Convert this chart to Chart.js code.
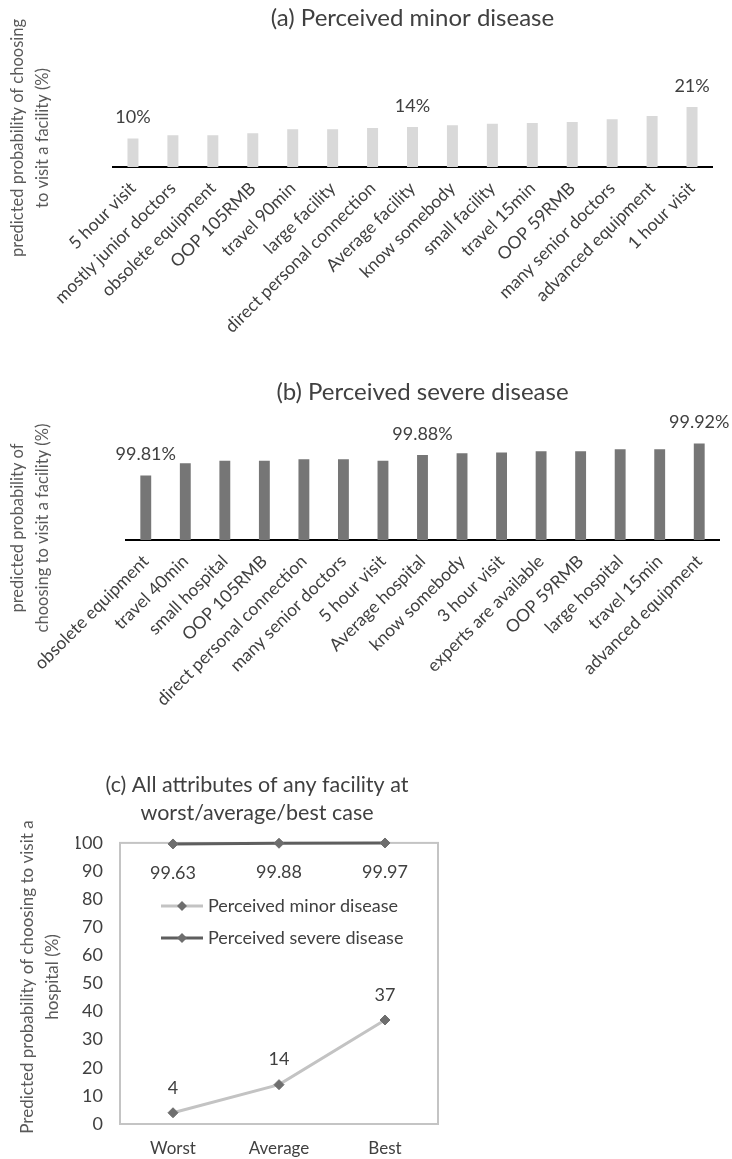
<!DOCTYPE html>
<html>
<head>
<meta charset="utf-8">
<script src="https://cdn.jsdelivr.net/npm/chart.js@4.4.1/dist/chart.umd.min.js"></script>
<style>
  html, body { margin: 0; padding: 0; background: #ffffff; }
  #page { position: relative; width: 732px; height: 1159px; overflow: hidden; }
  canvas { position: absolute; }
</style>
</head>
<body>
<div id="page">
  <canvas id="minorChart" width="732" height="340" style="left:0;top:0"></canvas>
  <canvas id="severeChart" width="732" height="340" style="left:0;top:370px"></canvas>
  <canvas id="scenarioChart" width="470" height="399" style="left:0;top:760px"></canvas>
</div>
<script>
// (a) attribute levels, perceived minor disease (%)
const minorAttributes = [
  '5 hour visit', 'mostly junior doctors', 'obsolete equipment', 'OOP 105RMB',
  'travel 90min', 'large facility', 'direct personal connection', 'Average facility',
  'know somebody', 'small facility', 'travel 15min', 'OOP 59RMB',
  'many senior doctors', 'advanced equipment', '1 hour visit'
];
const minorProbability = [10, 11.1, 11.1, 11.8, 13.2, 13.2, 13.6, 14, 14.6, 15.1, 15.4, 15.7, 16.7, 17.8, 21];
const minorLabelled = [0, 7, 14];

// (b) attribute levels, perceived severe disease (%)
const severeAttributes = [
  'obsolete equipment', 'travel 40min', 'small hospital', 'OOP 105RMB',
  'direct personal connection', 'many senior doctors', '5 hour visit', 'Average hospital',
  'know somebody', '3 hour visit', 'experts are available', 'OOP 59RMB',
  'large hospital', 'travel 15min', 'advanced equipment'
];
const severeProbability = [99.81, 99.852, 99.861, 99.861, 99.866, 99.866, 99.861, 99.88, 99.886, 99.889, 99.893, 99.893, 99.9, 99.9, 99.92];
const severeLabelled = [0, 7, 14];

// (c) all attributes at worst / average / best case (%)
const scenarioCases = ['Worst', 'Average', 'Best'];
const scenarioMinor = [4, 14, 37];
const scenarioSevere = [99.63, 99.88, 99.97];
const scenarioTicks = [0, 10, 20, 30, 40, 50, 60, 70, 80, 90, 100];

const FONT = 'Lato, "Open Sans", "Noto Sans", sans-serif';
const TEXT = '#404040';

// Rotated, multi-line axis caption placed beside the plot
const sideTitle = {
  id: 'sideTitle',
  afterDraw(chart, args, opts) {
    if (!opts.lines) return;
    const ctx = chart.ctx;
    ctx.save();
    ctx.font = `${opts.size}px ${FONT}`;
    ctx.fillStyle = opts.color;
    ctx.textAlign = 'center';
    ctx.textBaseline = 'middle';
    opts.lines.forEach(line => {
      ctx.save();
      ctx.translate(line.x, opts.centerY);
      ctx.rotate(-Math.PI / 2);
      ctx.fillText(line.text, 0, 0);
      ctx.restore();
    });
    ctx.restore();
  }
};

// Value captions next to chosen data points
const valueLabels = {
  id: 'valueLabels',
  afterDatasetsDraw(chart, args, opts) {
    if (!opts.items) return;
    const ctx = chart.ctx;
    ctx.save();
    ctx.font = `${opts.size}px ${FONT}`;
    ctx.fillStyle = opts.color;
    ctx.textAlign = 'center';
    ctx.textBaseline = 'middle';
    opts.items.forEach(item => {
      const meta = chart.getDatasetMeta(item.dataset);
      const values = chart.data.datasets[item.dataset].data;
      const idx = item.indices || values.map((v, i) => i);
      idx.forEach(i => {
        const el = meta.data[i];
        const text = values[i].toFixed(item.digits) + (item.suffix || '');
        ctx.fillText(text, el.x, el.y + item.dy);
      });
    });
    ctx.restore();
  }
};

// Light border round the plot area
const plotFrame = {
  id: 'plotFrame',
  beforeDatasetsDraw(chart, args, opts) {
    const { left, top, width, height } = chart.chartArea;
    const ctx = chart.ctx;
    ctx.save();
    ctx.strokeStyle = opts.color;
    ctx.lineWidth = opts.width;
    ctx.strokeRect(left, top, width, height);
    ctx.restore();
  }
};

// Legend drawn inside the plot area: line sample with a diamond marker
const insetLegend = {
  id: 'insetLegend',
  afterDraw(chart, args, opts) {
    const ctx = chart.ctx;
    ctx.save();
    ctx.font = `${opts.size}px ${FONT}`;
    ctx.textAlign = 'left';
    ctx.textBaseline = 'middle';
    chart.data.datasets.forEach((ds, i) => {
      const y = opts.y + i * opts.gap;
      ctx.strokeStyle = ds.borderColor;
      ctx.lineWidth = ds.borderWidth;
      ctx.beginPath();
      ctx.moveTo(opts.x, y);
      ctx.lineTo(opts.x + opts.lineLength, y);
      ctx.stroke();
      const cx = opts.x + opts.lineLength / 2;
      const r = ds.pointRadius;
      ctx.fillStyle = ds.pointBackgroundColor;
      ctx.beginPath();
      ctx.moveTo(cx, y - r);
      ctx.lineTo(cx + r, y);
      ctx.lineTo(cx, y + r);
      ctx.lineTo(cx - r, y);
      ctx.closePath();
      ctx.fill();
      ctx.fillStyle = opts.color;
      ctx.fillText(ds.label, opts.x + opts.lineLength + 5, y);
    });
    ctx.restore();
  }
};

const tickFont = { family: FONT, size: 17.5 };

function barPanel(canvasId, cfg) {
  return new Chart(document.getElementById(canvasId), {
    type: 'bar',
    data: {
      labels: cfg.labels,
      datasets: [{
        label: cfg.name,
        data: cfg.values,
        backgroundColor: cfg.color,
        categoryPercentage: 1,
        barPercentage: 0.275
      }]
    },
    options: {
      responsive: false,
      animation: false,
      devicePixelRatio: 1,
      layout: { padding: cfg.padding },
      plugins: {
        legend: { display: false },
        tooltip: { enabled: false },
        title: {
          display: true,
          text: cfg.title,
          color: TEXT,
          font: { family: FONT, size: 24, weight: 'normal', lineHeight: 1.2 },
          padding: cfg.titlePadding
        },
        sideTitle: { lines: cfg.sideLines, centerY: cfg.sideCenter, size: 16.5, color: '#595959' },
        valueLabels: {
          size: 18, color: TEXT,
          items: [{ dataset: 0, indices: cfg.labelled, digits: cfg.digits, suffix: '%', dy: -21 }]
        }
      },
      scales: {
        x: {
          grid: { display: false, drawTicks: false },
          border: { display: true, color: '#000000', width: 2 },
          ticks: { autoSkip: false, minRotation: 45, maxRotation: 45, color: TEXT, font: tickFont, padding: 11 },
          afterFit: s => { s.height = cfg.xHeight; }
        },
        y: { display: false, min: cfg.min, max: cfg.max }
      }
    },
    plugins: [sideTitle, valueLabels]
  });
}

barPanel('minorChart', {
  name: 'Perceived minor disease',
  title: '(a) Perceived minor disease',
  labels: minorAttributes,
  values: minorProbability,
  labelled: minorLabelled,
  digits: 0,
  color: '#d9d9d9',
  padding: { left: 113, right: 20, top: 0, bottom: 0 },
  titlePadding: { top: 4, bottom: 27 },
  xHeight: 173,
  min: 0, max: 37.5,
  sideLines: [
    { text: 'predicted probability of choosing', x: 18 },
    { text: 'to visit a facility (%)', x: 43 }
  ],
  sideCenter: 138
});

barPanel('severeChart', {
  name: 'Perceived severe disease',
  title: '(b) Perceived severe disease',
  labels: severeAttributes,
  values: severeProbability,
  labelled: severeLabelled,
  digits: 2,
  color: '#767676',
  padding: { left: 126, right: 13, top: 0, bottom: 0 },
  titlePadding: { top: 8, bottom: 23.4 },
  xHeight: 170,
  min: 99.59, max: 99.965,
  sideLines: [
    { text: 'predicted probability of', x: 18 },
    { text: 'choosing to visit a facility (%)', x: 43 }
  ],
  sideCenter: 158
});

new Chart(document.getElementById('scenarioChart'), {
  type: 'line',
  data: {
    labels: scenarioCases,
    datasets: [
      {
        label: 'Perceived minor disease',
        data: scenarioMinor,
        borderColor: '#c3c3c3',
        borderWidth: 3,
        pointStyle: 'rectRot',
        pointRadius: 5,
        pointBackgroundColor: '#6e6e6e',
        pointBorderColor: '#6e6e6e',
        pointBorderWidth: 1,
        clip: false
      },
      {
        label: 'Perceived severe disease',
        data: scenarioSevere,
        borderColor: '#5e5e5e',
        borderWidth: 3,
        pointStyle: 'rectRot',
        pointRadius: 5,
        pointBackgroundColor: '#6e6e6e',
        pointBorderColor: '#6e6e6e',
        pointBorderWidth: 1,
        clip: false
      }
    ]
  },
  options: {
    responsive: false,
    animation: false,
    devicePixelRatio: 1,
    layout: { padding: { left: 76, right: 32, top: 0, bottom: 0 } },
    plugins: {
      legend: { display: false },
      tooltip: { enabled: false },
      title: {
        display: true,
        text: ['(c) All attributes of any facility at', 'worst/average/best case'],
        color: TEXT,
        font: { family: FONT, size: 21.5, weight: 'normal', lineHeight: 1.3 },
        padding: { top: 11, bottom: 16 }
      },
      sideTitle: {
        lines: [
          { text: 'Predicted probability of choosing to visit a', x: 28 },
          { text: 'hospital (%)', x: 53 }
        ],
        centerY: 217, size: 17, color: '#595959'
      },
      valueLabels: {
        size: 18, color: TEXT,
        items: [
          { dataset: 0, digits: 0, dy: -25 },
          { dataset: 1, digits: 2, dy: 29 }
        ]
      },
      plotFrame: { color: '#c4c4c4', width: 2 },
      insetLegend: { x: 161, y: 146, gap: 32, lineLength: 42, size: 18, color: TEXT }
    },
    scales: {
      x: {
        offset: true,
        grid: { display: false, drawTicks: false },
        border: { display: false },
        ticks: { color: TEXT, font: { family: FONT, size: 17 }, padding: 14 },
        afterFit: s => { s.height = 35; }
      },
      y: {
        min: 0,
        max: 100,
        afterBuildTicks: s => { s.ticks = scenarioTicks.map(v => ({ value: v })); },
        grid: { display: false, drawTicks: false },
        border: { display: false },
        ticks: { color: TEXT, font: { family: FONT, size: 18 }, padding: 17 },
        afterFit: s => { s.width = 44; }
      }
    }
  },
  plugins: [plotFrame, sideTitle, valueLabels, insetLegend]
});
</script>
</body>
</html>
